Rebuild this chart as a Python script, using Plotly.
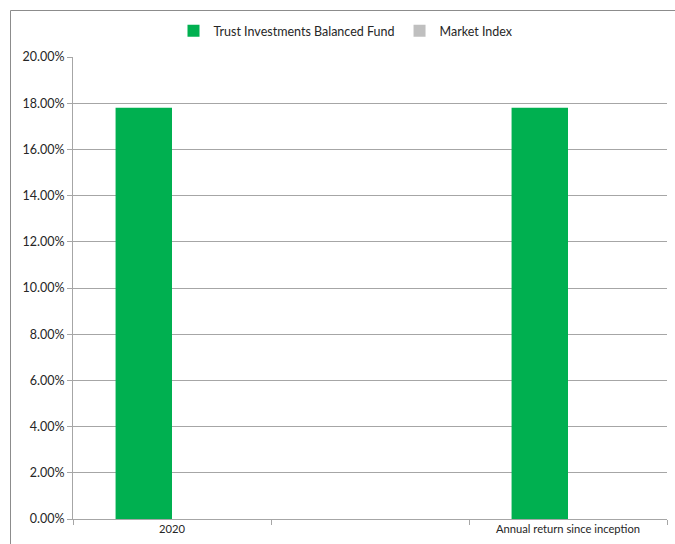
import plotly.graph_objects as go

categories = ["2020", " ", "Annual return since inception"]
fund_name = "Trust Investments Balanced Fund"
index_name = "Market Index"
fund_values = [0.178, None, 0.178]
index_values = [None, None, None]

FONT = "Lato, 'Liberation Sans', Arial, sans-serif"
GRID = "#A6A6A6"

fig = go.Figure()
fig.add_trace(go.Bar(x=categories, y=fund_values, name=fund_name,
                     marker=dict(color="#00B050", line=dict(width=0))))
fig.add_trace(go.Bar(x=categories, y=index_values, name=index_name,
                     marker=dict(color="#BFBFBF", line=dict(width=0))))

L, R, T, B = 73, 8, 57, 25
W, H = 675, 544
pw, ph = W - L - R, H - T - B

fig.update_layout(
    width=W, height=H,
    margin=dict(l=L, r=R, t=T, b=B),
    paper_bgcolor="white", plot_bgcolor="white",
    barmode="group", bargap=0.43, bargroupgap=0,
    font=dict(family=FONT, size=11, color="#262626"),
    legend=dict(orientation="h", x=0.5 - 24 / pw, xanchor="center",
                y=1 + (T - 31) / ph, yanchor="middle",
                font=dict(size=12.5, family=FONT), itemwidth=30,
                bgcolor="rgba(0,0,0,0)"),
    xaxis=dict(showline=True, linecolor=GRID, linewidth=1,
               ticks="outside", ticklen=5, tickcolor=GRID,
               tickson="boundaries", showgrid=False,
               tickfont=dict(size=11.2), fixedrange=True),
    yaxis=dict(range=[0, 0.2], dtick=0.02, tickformat=".2%",
               showline=True, linecolor=GRID, linewidth=1,
               ticks="outside", ticklen=5, tickcolor=GRID,
               showgrid=True, gridcolor=GRID, gridwidth=1,
               zeroline=False, tickfont=dict(size=12.5), fixedrange=True),
    shapes=[dict(type="rect", xref="paper", yref="paper",
                 x0=(10.5 - L) / pw, x1=(W + 5 - L) / pw,
                 y0=-(60) / ph, y1=1 + (T - 10.5) / ph,
                 line=dict(color="#8C8C8C", width=1), layer="below")],
)

fig.write_html("out.html")
